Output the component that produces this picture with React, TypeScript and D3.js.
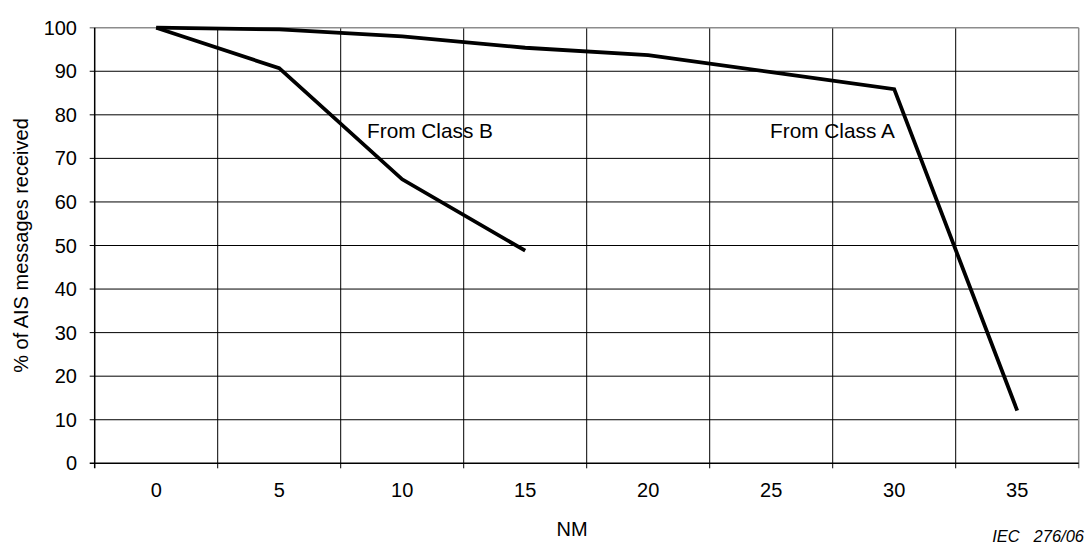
import React, { ReactElement, useEffect, useRef } from "react";
import * as d3 from "d3";

// values
const distances = ["0", "5", "10", "15", "20", "25", "30", "35"];
const fromClassA = [100, 99.6, 98, 95.4, 93.7, 89.8, 85.9, 12.1];
const fromClassB = [100, 90.7, 65.2, 48.8];
const yTicks = [0, 10, 20, 30, 40, 50, 60, 70, 80, 90, 100];
const seriesLabels = ["From Class B", "From Class A"];

function App(): ReactElement {
  const ref = useRef<SVGSVGElement>(null);

  useEffect(() => {
    drawChart();
  }, []);

  const drawChart = () => {
    const left = 94.7;
    const right = 1078.7;
    const top = 27.7;
    const bottom = 463.3;
    const font = "'Liberation Sans', Arial, sans-serif";

    const x = d3.scaleBand().domain(distances).range([left, right]).padding(0);
    const y = d3.scaleLinear().domain([0, 100]).range([bottom, top]);
    const cx = (d: string) => (x(d) || 0) + x.bandwidth() / 2;

    const svg = d3.select(ref.current);
    svg.selectAll("*").remove();

    // horizontal grid + y ticks
    svg
      .append("g")
      .selectAll("line")
      .data(yTicks.filter((t) => t > 0 && t < 100))
      .enter()
      .append("line")
      .attr("x1", left - 5)
      .attr("x2", right)
      .attr("y1", (d) => y(d))
      .attr("y2", (d) => y(d))
      .attr("stroke", "#000")
      .attr("stroke-width", 1);

    // vertical grid at band boundaries
    const bounds = distances.slice(1).map((d) => x(d) || 0);
    svg
      .append("g")
      .selectAll("line")
      .data(bounds)
      .enter()
      .append("line")
      .attr("x1", (d) => d)
      .attr("x2", (d) => d)
      .attr("y1", top)
      .attr("y2", bottom + 5)
      .attr("stroke", "#000")
      .attr("stroke-width", 1);

    // top and right border (grey)
    svg
      .append("line")
      .attr("x1", left - 5)
      .attr("x2", right)
      .attr("y1", top)
      .attr("y2", top)
      .attr("stroke", "#8c8c8c")
      .attr("stroke-width", 1.5);
    svg
      .append("line")
      .attr("x1", right)
      .attr("x2", right)
      .attr("y1", top)
      .attr("y2", bottom + 5)
      .attr("stroke", "#8c8c8c")
      .attr("stroke-width", 1.5);

    // axes
    svg
      .append("line")
      .attr("x1", left)
      .attr("x2", left)
      .attr("y1", top)
      .attr("y2", bottom + 5)
      .attr("stroke", "#000")
      .attr("stroke-width", 1.5);
    svg
      .append("line")
      .attr("x1", left - 5)
      .attr("x2", right)
      .attr("y1", bottom)
      .attr("y2", bottom)
      .attr("stroke", "#000")
      .attr("stroke-width", 1.5);

    // y tick labels
    svg
      .append("g")
      .selectAll("text")
      .data(yTicks)
      .enter()
      .append("text")
      .attr("x", 77)
      .attr("y", (d) => y(d))
      .attr("dy", "0.35em")
      .attr("text-anchor", "end")
      .attr("font-family", font)
      .attr("font-size", 20)
      .text((d) => d);

    // x tick labels
    svg
      .append("g")
      .selectAll("text")
      .data(distances)
      .enter()
      .append("text")
      .attr("x", (d) => cx(d))
      .attr("y", 497.3)
      .attr("text-anchor", "middle")
      .attr("font-family", font)
      .attr("font-size", 20)
      .text((d) => d);

    // lines
    const line = d3
      .line<number>()
      .x((_, i) => cx(distances[i]))
      .y((d) => y(d));
    [fromClassA, fromClassB].forEach((s) => {
      svg
        .append("path")
        .attr("d", line(s) || "")
        .attr("fill", "none")
        .attr("stroke", "#000")
        .attr("stroke-width", 3.8)
        .attr("stroke-linejoin", "miter");
    });

    // series labels
    svg
      .append("text")
      .attr("x", 367)
      .attr("y", 138.3)
      .attr("font-family", font)
      .attr("font-size", 20.8)
      .text(seriesLabels[0]);
    svg
      .append("text")
      .attr("x", 770)
      .attr("y", 138.3)
      .attr("font-family", font)
      .attr("font-size", 20.8)
      .text(seriesLabels[1]);

    // axis titles
    svg
      .append("text")
      .attr("transform", `translate(27.5,${(top + bottom) / 2}) rotate(-90)`)
      .attr("text-anchor", "middle")
      .attr("font-family", font)
      .attr("font-size", 20)
      .text("% of AIS messages received");
    svg
      .append("text")
      .attr("x", 572)
      .attr("y", 535.5)
      .attr("text-anchor", "middle")
      .attr("font-family", font)
      .attr("font-size", 20)
      .text("NM");
    svg
      .append("text")
      .attr("x", 1084)
      .attr("y", 542)
      .attr("text-anchor", "end")
      .attr("font-family", font)
      .attr("font-size", 16.5)
      .attr("font-style", "italic")
      .attr("xml:space", "preserve")
      .style("white-space", "pre")
      .text("IEC   276/06");
  };

  return (
    <div>
      <svg
        ref={ref}
        width={1087}
        height={545}
        style={{ position: "absolute", left: 0, top: 0, background: "#fff" }}
      ></svg>
    </div>
  );
}

export default App;
